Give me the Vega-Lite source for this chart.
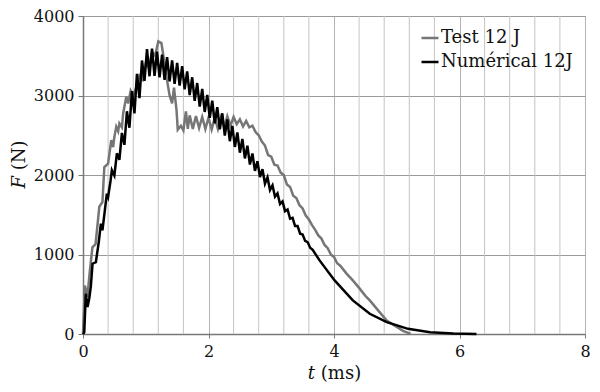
{
  "$schema": "https://vega.github.io/schema/vega-lite/v6.json",
  "autosize": {"type": "none"},
  "width": 502,
  "height": 318,
  "padding": {"left": 83, "top": 16, "right": 15, "bottom": 58},
  "background": "white",
  "config": {
    "view": {"stroke": "#8a8a8a", "strokeWidth": 1},
    "font": "DejaVu Serif"
  },
  "datasets": {
    "gridlines": [
      {"t":0.4},{"t":0.8},{"t":1.2},{"t":1.6},{"t":2.4},{"t":2.8},{"t":3.2},{"t":3.6},{"t":4.4},{"t":4.8},{"t":5.2},{"t":5.6},{"t":6.4},{"t":6.8},{"t":7.2},{"t":7.6}
    ],
    "test": [
      {"t":0,"F":0},{"t":0.03,"F":610},{"t":0.07,"F":470},{"t":0.11,"F":800},{"t":0.15,"F":1090},{"t":0.2,"F":1130},{"t":0.26,"F":1600},{"t":0.31,"F":1660},{"t":0.34,"F":2100},{"t":0.4,"F":2144},{"t":0.45,"F":2438},{"t":0.48,"F":2350},{"t":0.5,"F":2480},{"t":0.53,"F":2606},{"t":0.56,"F":2550},{"t":0.58,"F":2648},{"t":0.62,"F":2600},{"t":0.64,"F":2774},{"t":0.69,"F":2985},{"t":0.72,"F":2900},{"t":0.76,"F":3060},{"t":0.8,"F":3000},{"t":0.85,"F":3100},{"t":0.9,"F":3250},{"t":0.95,"F":3200},{"t":1.0,"F":3400},{"t":1.05,"F":3350},{"t":1.1,"F":3550},{"t":1.15,"F":3500},{"t":1.2,"F":3680},{"t":1.25,"F":3660},{"t":1.29,"F":3450},{"t":1.33,"F":3235},{"t":1.38,"F":3000},{"t":1.42,"F":2900},{"t":1.45,"F":3100},{"t":1.49,"F":2820},{"t":1.51,"F":2570},{"t":1.56,"F":2620},{"t":1.6,"F":2560},{"t":1.64,"F":2800},{"t":1.67,"F":2580},{"t":1.7,"F":2750},{"t":1.75,"F":2580},{"t":1.8,"F":2740},{"t":1.85,"F":2590},{"t":1.9,"F":2730},{"t":1.95,"F":2580},{"t":2.0,"F":2720},{"t":2.05,"F":2570},{"t":2.1,"F":2720},{"t":2.15,"F":2580},{"t":2.2,"F":2730},{"t":2.25,"F":2600},{"t":2.3,"F":2740},{"t":2.35,"F":2620},{"t":2.4,"F":2730},{"t":2.45,"F":2640},{"t":2.5,"F":2700},{"t":2.55,"F":2610},{"t":2.6,"F":2680},{"t":2.65,"F":2600},{"t":2.7,"F":2620},{"t":2.75,"F":2540},{"t":2.8,"F":2500},{"t":2.85,"F":2420},{"t":2.9,"F":2370},{"t":2.95,"F":2250},{"t":3.0,"F":2230},{"t":3.05,"F":2130},{"t":3.1,"F":2120},{"t":3.15,"F":2030},{"t":3.2,"F":2000},{"t":3.25,"F":1880},{"t":3.3,"F":1850},{"t":3.35,"F":1740},{"t":3.4,"F":1710},{"t":3.45,"F":1620},{"t":3.5,"F":1580},{"t":3.55,"F":1490},{"t":3.6,"F":1440},{"t":3.65,"F":1370},{"t":3.7,"F":1310},{"t":3.75,"F":1240},{"t":3.8,"F":1200},{"t":3.85,"F":1120},{"t":3.9,"F":1080},{"t":3.95,"F":1000},{"t":4.0,"F":970},{"t":4.05,"F":890},{"t":4.1,"F":860},{"t":4.2,"F":760},{"t":4.3,"F":674},{"t":4.4,"F":580},{"t":4.5,"F":480},{"t":4.57,"F":422},{"t":4.7,"F":300},{"t":4.84,"F":170},{"t":5.0,"F":90},{"t":5.1,"F":40},{"t":5.18,"F":15},{"t":5.22,"F":0}
    ],
    "num": [
      {"t":0,"F":0},{"t":0.02,"F":20},{"t":0.045,"F":506},{"t":0.072,"F":338},{"t":0.1,"F":450},{"t":0.125,"F":600},{"t":0.152,"F":884},{"t":0.205,"F":905},{"t":0.25,"F":1150},{"t":0.285,"F":1388},{"t":0.31,"F":1304},{"t":0.38,"F":1766},{"t":0.4,"F":1724},{"t":0.44,"F":1934},
      {"t":0.46,"F":2061},{"t":0.5,"F":1994},{"t":0.54,"F":2273},{"t":0.58,"F":2191},{"t":0.62,"F":2529},{"t":0.66,"F":2380},{"t":0.7,"F":2802},{"t":0.74,"F":2594},{"t":0.78,"F":3054},{"t":0.82,"F":2775},{"t":0.86,"F":3273},{"t":0.9,"F":2967},{"t":0.94,"F":3440},{"t":0.98,"F":3183},{"t":1.02,"F":3584},{"t":1.06,"F":3242},{"t":1.1,"F":3590},{"t":1.14,"F":3246},{"t":1.18,"F":3552},{"t":1.22,"F":3228},{"t":1.26,"F":3514},{"t":1.3,"F":3198},{"t":1.34,"F":3483},{"t":1.38,"F":3177},{"t":1.42,"F":3441},{"t":1.46,"F":3146},{"t":1.5,"F":3410},{"t":1.54,"F":3125},{"t":1.58,"F":3369},{"t":1.62,"F":3078},{"t":1.66,"F":3302},{"t":1.7,"F":3005},{"t":1.74,"F":3229},{"t":1.78,"F":2933},{"t":1.82,"F":3157},{"t":1.86,"F":2860},{"t":1.9,"F":3084},{"t":1.94,"F":2793},{"t":1.98,"F":3007},{"t":2.02,"F":2720},{"t":2.06,"F":2934},{"t":2.1,"F":2651},{"t":2.14,"F":2853},{"t":2.18,"F":2574},{"t":2.22,"F":2776},{"t":2.26,"F":2497},{"t":2.3,"F":2699},{"t":2.34,"F":2425},{"t":2.38,"F":2617},{"t":2.42,"F":2353},{"t":2.46,"F":2535},{"t":2.5,"F":2281},{"t":2.54,"F":2453},{"t":2.58,"F":2209},{"t":2.62,"F":2368},{"t":2.66,"F":2131},{"t":2.7,"F":2270},{"t":2.74,"F":2052},{"t":2.78,"F":2173},{"t":2.82,"F":1974},{"t":2.86,"F":2073},{"t":2.9,"F":1892},{"t":2.94,"F":1971},{"t":2.98,"F":1810},{"t":3.02,"F":1869},{"t":3.06,"F":1727},{"t":3.1,"F":1769},{"t":3.14,"F":1636},{"t":3.18,"F":1668},{"t":3.22,"F":1545},{"t":3.26,"F":1566},{"t":3.3,"F":1451},{"t":3.34,"F":1462},{"t":3.38,"F":1357},{"t":3.42,"F":1357},{"t":3.46,"F":1262},{"t":3.5,"F":1252},{"t":3.54,"F":1171},{"t":3.58,"F":1156},{"t":3.62,"F":1086},{"t":3.66,"F":1060},
      {"t":3.77,"F":926},{"t":4.01,"F":674},{"t":4.3,"F":422},{"t":4.57,"F":254},{"t":4.84,"F":149},{"t":5.18,"F":65},{"t":5.53,"F":23},{"t":5.9,"F":5},{"t":6.27,"F":0}
    ]
  },
  "layer": [
    {
      "data": {"name": "gridlines"},
      "mark": {"type": "rule", "color": "#c4c4c4", "strokeWidth": 1},
      "encoding": {
        "x": {"field": "t", "type": "quantitative", "scale": {"domain": [0, 8], "nice": false, "zero": false}}
      }
    },
    {
      "data": {"name": "test"},
      "transform": [{"calculate": "'Test 12 J'", "as": "series"}],
      "mark": {"type": "line", "strokeWidth": 2.5},
      "encoding": {
        "x": {
          "field": "t", "type": "quantitative",
          "scale": {"domain": [0, 8], "nice": false, "zero": false},
          "axis": {
            "title": "𝑡 (ms)",
            "values": [0, 2, 4, 6, 8],
            "format": "d",
            "grid": true,
            "gridColor": "#b4b4b4",
            "gridWidth": 1,
            "tickColor": "#777777",
            "tickSize": 4,
            "domainColor": "#777777",
            "domainWidth": 1.5,
            "labelFont": "DejaVu Serif",
            "labelFontSize": 16,
            "labelColor": "#111111",
            "labelPadding": 5,
            "labelFlush": false,
            "titleFont": "DejaVu Serif",
            "titleFontSize": 18,
            "titleFontWeight": "normal",
            "titleColor": "#111111",
            "titlePadding": 5
          }
        },
        "y": {
          "field": "F", "type": "quantitative",
          "scale": {"domain": [0, 4000], "nice": false},
          "axis": {
            "title": "𝐹 (N)",
            "values": [0, 1000, 2000, 3000, 4000],
            "format": "d",
            "grid": true,
            "gridColor": "#9a9a9a",
            "gridWidth": 1,
            "tickColor": "#777777",
            "tickSize": 5,
            "domainColor": "#777777",
            "domainWidth": 1.5,
            "labelFont": "DejaVu Serif",
            "labelFontSize": 16,
            "labelColor": "#111111",
            "labelPadding": 4,
            "labelFlush": false,
            "titleFont": "DejaVu Serif",
            "titleFontSize": 18,
            "titleFontWeight": "normal",
            "titleColor": "#111111",
            "titlePadding": 5,
            "titleY": 148
          }
        },
        "color": {
          "field": "series", "type": "nominal",
          "scale": {"domain": ["Test 12 J", "Numérical 12J"], "range": ["#767676", "#000000"]},
          "legend": {
            "title": null,
            "orient": "top-right",
            "offset": 6,
            "symbolType": "stroke",
            "symbolSize": 289,
            "symbolStrokeWidth": 2.5,
            "labelFont": "DejaVu Serif",
            "labelFontSize": 18,
            "labelColor": "#111111",
            "labelOffset": 1,
            "rowPadding": 5,
            "padding": 6,
            "fillColor": null,
            "strokeColor": null
          }
        }
      }
    },
    {
      "data": {"name": "num"},
      "transform": [{"calculate": "'Numérical 12J'", "as": "series"}],
      "mark": {"type": "line", "strokeWidth": 2.5},
      "encoding": {
        "x": {"field": "t", "type": "quantitative"},
        "y": {"field": "F", "type": "quantitative"},
        "color": {"field": "series", "type": "nominal"}
      }
    }
  ]
}
